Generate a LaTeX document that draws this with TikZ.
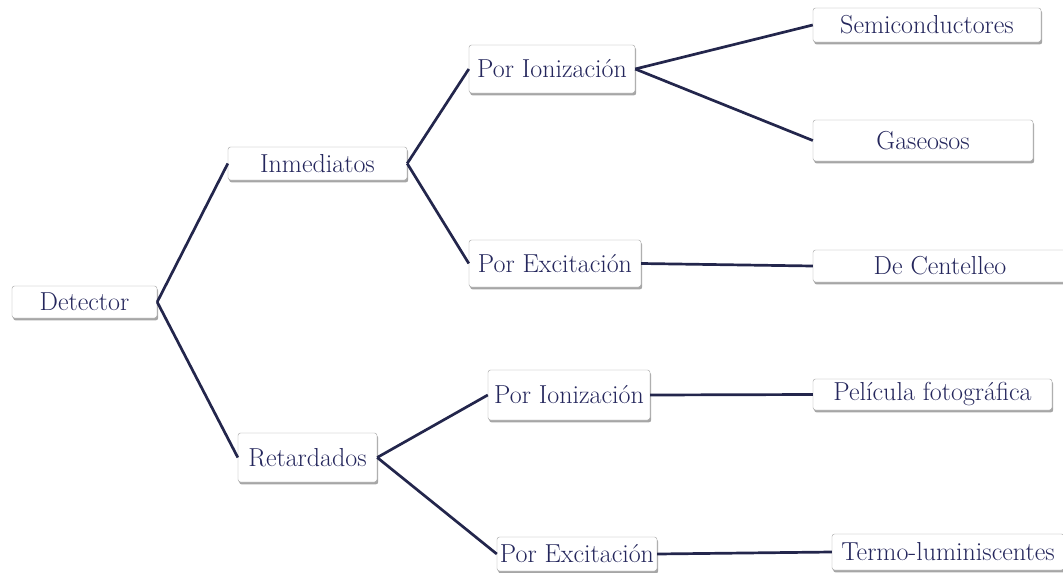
\documentclass[tikz,border=0pt]{standalone}
\usetikzlibrary{shadows}
\definecolor{txtblue}{RGB}{36,38,92}
\definecolor{linenavy}{RGB}{35,38,76}
\begin{document}
\begin{tikzpicture}[x=1pt, y=-1pt,
	box/.style={draw=gray!75, fill=white, rounded corners=2.5pt, inner sep=0pt,
		text=txtblue, font=\fontsize{26}{30}\selectfont,
		drop shadow={shadow xshift=1.2pt, shadow yshift=-2.4pt, opacity=0.35, fill=black}},
	link/.style={linenavy, line width=2.7pt}]
		
		\useasboundingbox (0,0) rectangle (1063,573);
		
		\node[box, minimum width=145pt, minimum height=32pt] (A) at (84.5,302) {Detector};
		
		\node[box, minimum width=179pt, minimum height=33pt] (B) at (317.5,163.5) {Inmediatos};
		\node[box, minimum width=139pt, minimum height=49pt] (C) at (307.5,457.5) {Retardados};
		
		\node[box, minimum width=166pt, minimum height=48pt] (D) at (552,69) {Por Ionización};
		\node[box, minimum width=172pt, minimum height=47pt] (E) at (555,263.5) {Por Excitación};
		\node[box, minimum width=162pt, minimum height=50pt] (F) at (569,395) {Por Ionización};
		\node[box, minimum width=160pt, minimum height=34pt] (G) at (577,554) {Por Excitación};
		
		\node[box, minimum width=228pt, minimum height=34pt] (H) at (927,25) {Semiconductores};
		\node[box, minimum width=220pt, minimum height=41pt] (I) at (923,140.5) {Gaseosos};
		\node[box, minimum width=254pt, minimum height=32pt] (J) at (940,266) {De Centelleo};
		\node[box, minimum width=239pt, minimum height=31pt] (K) at (932.5,394.5) {Película fotográfica};
		\node[box, minimum width=232pt, minimum height=36pt] (L) at (948,552) {Termo-luminiscentes};
		
		\draw[link] (A.east) -- (B.west);
		\draw[link] (A.east) -- (C.west);
		
		\draw[link] (B.east) -- (D.west);
		\draw[link] (B.east) -- (E.west);
		\draw[link] (C.east) -- (F.west);
		\draw[link] (C.east) -- (G.west);
		
		\draw[link] (D.east) -- (H.west);
		\draw[link] (D.east) -- (I.west);
		\draw[link] (E.east) -- (J.west);
		\draw[link] (F.east) -- (K.west);
		\draw[link] (G.east) -- (L.west);
	\end{tikzpicture}
\end{document}
